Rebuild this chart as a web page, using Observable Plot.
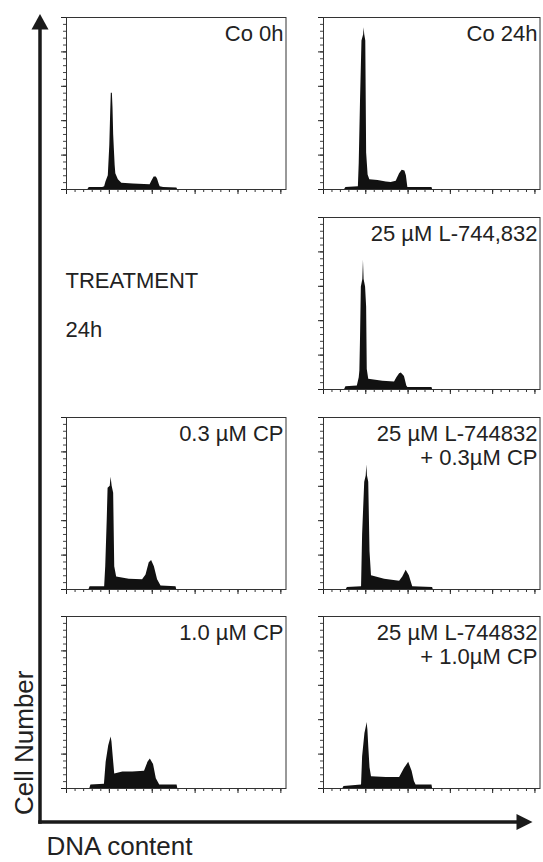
<!DOCTYPE html>
<html><head><meta charset="utf-8">
<script src="https://cdn.jsdelivr.net/npm/d3@7"></script>
<script src="https://cdn.jsdelivr.net/npm/@observablehq/plot@0.6"></script>
<style>
body{margin:0;background:#fff;}
#fig{position:relative;width:543px;height:862px;font-family:"Liberation Sans",Arial,sans-serif;color:#222;}
.panel{position:absolute;}
.panel svg{overflow:visible;}
</style></head><body><div id="fig"></div>
<script>
// DNA-content histograms: [channel, cell count] outline points
const co0h = [[100,0],[106,3],[169,3],[178,4],[184,11],[195,20],[199,45],[202,64],[206,110],[209,140],[214,140],[217,118],[220,80],[223,60],[227,35],[230,23],[242,14],[258,9],[312,8],[390,7],[398,12],[409,18],[419,18],[425,15],[432,8],[437,4],[453,3],[515,2],[518,0]];
const co24h = [[100,0],[106,3],[165,4],[169,38],[175,128],[182,216],[190,225],[192,235],[195,225],[200,216],[204,53],[211,21],[219,14],[258,13],[297,11],[320,10],[344,12],[360,23],[372,28],[385,27],[392,20],[399,3],[513,3],[516,0]];
const l744 = [[100,0],[106,4],[160,5],[169,17],[172,27],[175,73],[179,149],[186,160],[189,188],[192,160],[199,149],[204,120],[207,29],[214,15],[281,12],[336,11],[347,17],[360,23],[368,24],[383,19],[394,5],[399,3],[513,3],[516,0]];
const cp03 = [[105,0],[110,4],[178,4],[183,33],[190,101],[194,147],[204,150],[208,163],[213,150],[220,140],[225,33],[234,18],[293,15],[355,14],[371,21],[386,39],[397,42],[410,33],[425,14],[441,5],[511,4],[514,0]];
const l744cp03 = [[108,0],[113,3],[180,4],[185,80],[195,156],[202,165],[205,181],[208,165],[214,156],[220,55],[227,20],[289,15],[360,12],[375,18],[391,28],[406,20],[422,4],[516,3],[519,0]];
const cp10 = [[109,0],[114,5],[177,6],[185,38],[197,62],[204,70],[208,75],[212,68],[216,53],[225,21],[239,22],[263,24],[309,24],[364,25],[380,38],[391,43],[406,35],[419,14],[435,5],[516,5],[519,0]];
const l744cp10 = [[92,0],[97,3],[180,5],[185,46],[196,80],[203,90],[206,96],[210,85],[214,61],[220,30],[227,17],[297,16],[360,16],[383,29],[403,38],[419,25],[430,10],[438,5],[513,5],[516,0]];

const panelLabels = ["Co 0h","Co 24h","25 µM L-744,832","0.3 µM CP","25 µM L-744832\n+ 0.3µM CP","1.0 µM CP","25 µM L-744832\n+ 1.0µM CP"];
const panelData = [co0h, co24h, l744, cp03, l744cp03, cp10, l744cp10];
const xTicksMinor = d3.range(0, 1001, 40);
const xTicksMajor = d3.range(0, 1001, 200);
const yTicksMinor = d3.range(0, 251, 10);
const yTicksMajor = d3.range(0, 251, 50);
const axisTitles = {x: "DNA content", y: "Cell Number"};
const sideText = ["TREATMENT", "24h"];

// layout (pixels)
const colX = [66, 323], colW = [219.5, 216.5];
const rowY = [17, 217, 417, 616], frameH = 172;
const cells = [[0,0],[1,0],[1,1],[0,2],[1,2],[0,3],[1,3]]; // [col,row]
const mL = 8, mR = 2, mT = 2, mB = 8;
const ink = "#1a1a1a";

const fig = document.getElementById("fig");

// background: big axes arrows and titles
const bg = d3.select(fig).append("svg")
  .attr("width", 543).attr("height", 862)
  .style("position","absolute").style("left","0").style("top","0")
  .style("font-family",'"Liberation Sans",Arial,sans-serif');
bg.append("line").attr("x1",40).attr("x2",40).attr("y1",28).attr("y2",823.8)
  .attr("stroke",ink).attr("stroke-width",3.5);
bg.append("polygon").attr("points","31.5,29.5 48.5,29.5 40,14").attr("fill",ink);
bg.append("line").attr("x1",38.25).attr("x2",518).attr("y1",822).attr("y2",822)
  .attr("stroke",ink).attr("stroke-width",3.5);
bg.append("polygon").attr("points","516.5,814 516.5,830 532.5,822").attr("fill",ink);
bg.append("text").text(axisTitles.y).attr("transform","translate(32.5,815) rotate(-90)")
  .attr("font-size",26).attr("fill","#222");
bg.append("text").text(axisTitles.x).attr("x",46.5).attr("y",854.5)
  .attr("font-size",26).attr("fill","#222");
bg.append("text").text(sideText[0]).attr("x",65.5).attr("y",288.3).attr("font-size",22).attr("fill","#222");
bg.append("text").text(sideText[1]).attr("x",65.5).attr("y",336.7).attr("font-size",22).attr("fill","#222");

panelData.forEach((data, i) => {
  const [c, r] = cells[i];
  const W = colW[c];
  const chart = Plot.plot({
    width: W + mL + mR, height: frameH + mT + mB,
    marginLeft: mL, marginRight: mR, marginTop: mT, marginBottom: mB,
    x: {domain: [0, 1024]},
    y: {domain: [0, 250]},
    style: {background: "transparent", fontFamily: '"Liberation Sans",Arial,sans-serif', color: "#222"},
    marks: [
      Plot.areaY(data, {x: d => d[0], y: d => d[1], fill: "#111", curve: "linear"}),
      Plot.axisX({ticks: xTicksMinor, tickSize: 3, tickFormat: () => "", label: null, stroke: "#333"}),
      Plot.axisX({ticks: xTicksMajor, tickSize: 5, tickFormat: () => "", label: null, stroke: "#222"}),
      Plot.axisY({ticks: yTicksMinor, tickSize: 3, tickFormat: () => "", label: null, stroke: "#444"}),
      Plot.axisY({ticks: yTicksMajor, tickSize: 5, tickFormat: () => "", label: null, stroke: "#222"}),
      Plot.frame({stroke: "#333", strokeWidth: 1}),
      Plot.text([panelLabels[i]], {frameAnchor: "top-right", lineAnchor: "top", textAnchor: "end",
        fontSize: 22, lineHeight: 1.07, dx: -2.5, dy: 7, fill: "#222"})
    ]
  });
  const div = document.createElement("div");
  div.className = "panel";
  div.style.left = (colX[c] - mL) + "px";
  div.style.top = (rowY[r] - mT) + "px";
  div.appendChild(chart);
  fig.appendChild(div);
});
</script></body></html>
